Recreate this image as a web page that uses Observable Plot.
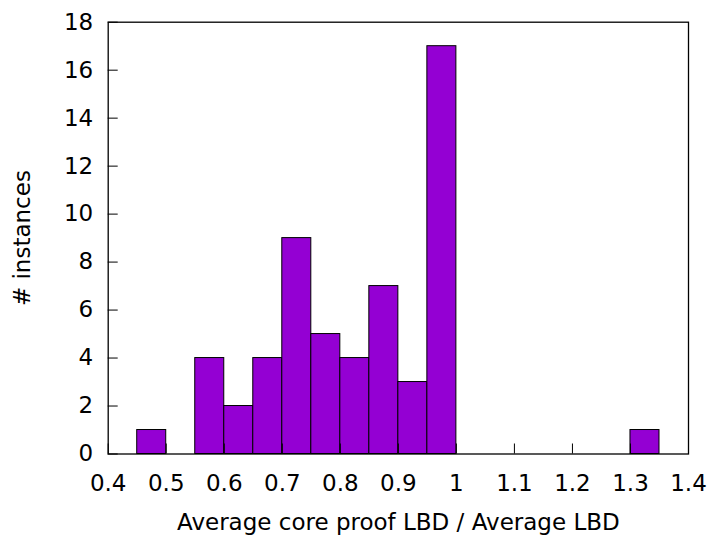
<!DOCTYPE html>
<html>
<head>
<meta charset="utf-8">
<script src="https://cdn.jsdelivr.net/npm/d3@7"></script>
<script src="https://cdn.jsdelivr.net/npm/@observablehq/plot@0.6"></script>
<style>
  html, body { margin: 0; padding: 0; background: #fff; }
  #chart svg { display: block; }
</style>
</head>
<body>
<div id="chart"></div>
<script>
// Histogram bins (lower edge) and counts
const binStart = [0.45, 0.55, 0.60, 0.65, 0.70, 0.75, 0.80, 0.85, 0.90, 0.95, 1.30];
const binWidth = 0.05;
const counts   = [1, 4, 2, 4, 9, 5, 4, 7, 3, 17, 1];

const xTicks = [0.4, 0.5, 0.6, 0.7, 0.8, 0.9, 1.0, 1.1, 1.2, 1.3, 1.4];
const xTickLabels = ["0.4", "0.5", "0.6", "0.7", "0.8", "0.9", "1", "1.1", "1.2", "1.3", "1.4"];
const yTicks = [0, 2, 4, 6, 8, 10, 12, 14, 16, 18];

const bins = binStart.map((x0, i) => ({x1: x0, x2: x0 + binWidth, y: counts[i]}));

const chart = Plot.plot({
  width: 712,
  height: 535,
  marginLeft: 107.7,
  marginRight: 24,
  marginTop: 21.7,
  marginBottom: 81.5,
  style: {fontFamily: "DejaVu Sans", fontSize: "23px", color: "#000", background: "#fff"},
  x: {domain: [0.4, 1.4]},
  y: {domain: [0, 18]},
  marks: [
    Plot.rectY(bins, {x1: "x1", x2: "x2", y: "y", fill: "#9400D3", stroke: "#000", strokeWidth: 1}),
    Plot.frame({stroke: "#000", strokeWidth: 1.3}),
    Plot.axisX({
      ticks: xTicks,
      tickFormat: (d, i) => xTickLabels[i],
      tickSize: -10,
      tickPadding: 31,
      fontSize: 23,
      label: "Average core proof LBD / Average LBD",
      labelAnchor: "center",
      labelArrow: "none",
      labelOffset: 76
    }),
    Plot.axisY({
      ticks: yTicks,
      tickSize: -10,
      tickPadding: 25,
      fontSize: 23,
      label: "# instances",
      labelAnchor: "center",
      labelArrow: "none",
      labelOffset: 95
    })
  ]
});
document.getElementById("chart").appendChild(chart);
</script>
</body>
</html>
